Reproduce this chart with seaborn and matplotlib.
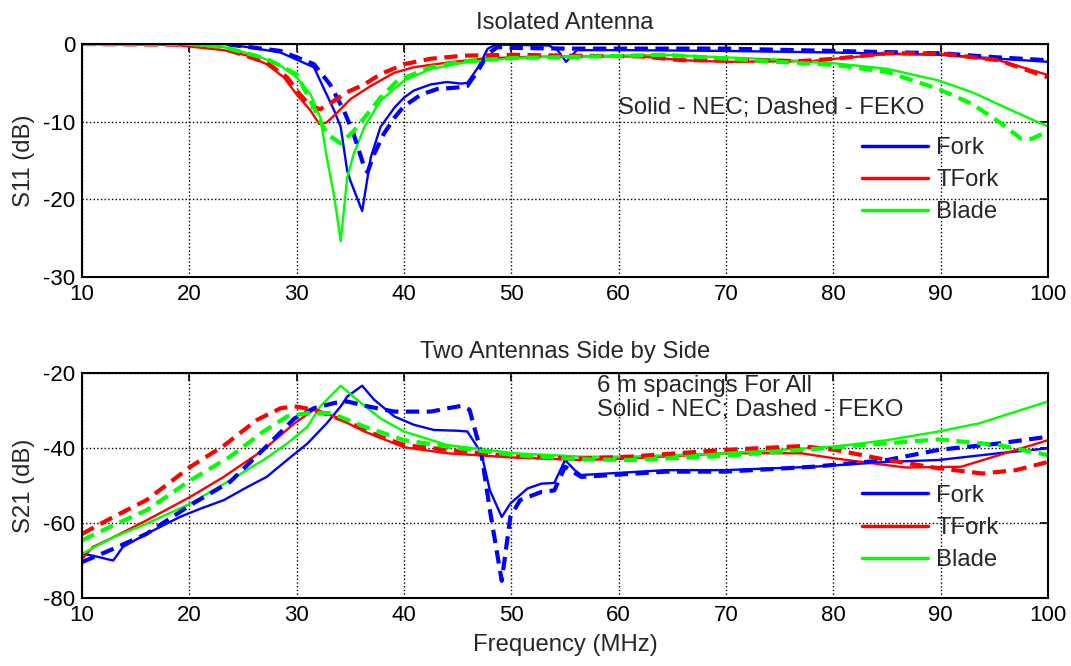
import numpy as np
import pandas as pd
import matplotlib
matplotlib.use("Agg")
import matplotlib.pyplot as plt
import seaborn as sns
from matplotlib.lines import Line2D

# --- S11, isolated antenna ---
fork_nec_f = [10, 20, 23.2, 25.4, 28.5, 31.6, 33.5, 34.1, 34.7, 35.0, 36.1, 36.9, 37.8, 39.1, 40.0, 40.9,
              42.5, 44.0, 45.3, 45.9, 46.9, 47.8, 48.4, 49.5, 53.5, 54.3, 55.1, 56.1, 61, 70, 80, 90, 95.4, 100]
fork_nec_s11 = [0, 0, 0, -0.4, -1.1, -3.0, -8.6, -10.7, -16.3, -17.6, -21.5, -14.6, -10.7, -8.2, -6.9, -6.0,
                -5.2, -4.9, -5.1, -5.0, -3.0, -0.6, -0.2, -0.1, -0.2, -0.8, -2.3, -0.8, -0.8, -0.9, -1.1, -1.4, -1.9, -2.3]

fork_feko_f = [10, 20, 23.2, 28.5, 31.6, 33.1, 34.4, 35.3, 36.3, 36.6, 37.2, 38.1, 39.1, 40.0, 41.6, 43.1,
               45.0, 45.9, 46.9, 47.8, 48.7, 50, 55, 60, 70, 80, 90, 95, 100]
fork_feko_s11 = [0, 0, 0, -0.9, -2.6, -5.2, -8.6, -11.6, -15.9, -16.5, -14.2, -11.6, -9.5, -8.0, -6.5, -5.8,
                 -5.6, -5.4, -3.4, -1.3, -0.4, -0.5, -0.6, -0.6, -0.6, -0.9, -1.2, -1.7, -2.1]

tfork_nec_f = [10, 18.5, 23.2, 25.4, 27.2, 28.8, 30.0, 31.3, 32.1, 32.8, 33.8, 35.0, 36.9, 39.1, 40.9, 44,
               47.2, 50.3, 55, 62, 66, 70, 78, 80.2, 85, 89.8, 95.4, 100]
tfork_nec_s11 = [0, -0.1, -0.8, -1.5, -2.6, -4.3, -6.5, -8.6, -10.3, -10.1, -8.8, -7.1, -5.4, -3.7, -3.0, -2.4,
                 -1.9, -1.7, -1.6, -1.6, -2.1, -2.3, -2.2, -1.9, -1.3, -1.3, -2.1, -4.0]

tfork_feko_f = [10, 20, 23.2, 27.2, 29.1, 30.3, 31.3, 32.2, 33.5, 34.7, 36.3, 37.8, 40, 42.5, 45.6, 50.3,
                55, 62, 66, 70, 77, 80.2, 85, 89.8, 95.4, 100]
tfork_feko_s11 = [0, -0.1, -0.6, -2.4, -4.3, -6.5, -8.0, -8.4, -7.3, -6.2, -5.2, -3.9, -2.6, -1.9, -1.5, -1.4,
                  -1.5, -1.6, -2.1, -2.1, -2.2, -1.9, -1.2, -1.2, -2.1, -4.3]

blade_nec_f = [10, 19.1, 23.2, 26.3, 28.5, 30, 31.3, 32.2, 32.8, 33.5, 34.1, 34.7, 35.3, 36.3, 37.8, 40,
               42.5, 45.6, 50.3, 55, 64.4, 74.7, 80.2, 85, 89.8, 92.9, 96.7, 98.8, 100]
blade_nec_s11 = [0, 0, -0.4, -1.5, -2.8, -4.3, -6.5, -9.5, -14.6, -19.7, -25.4, -17.2, -14.2, -10.7, -7.3, -4.7,
                 -3.2, -2.4, -1.8, -1.6, -1.4, -2.0, -2.5, -3.2, -4.7, -6.2, -8.6, -9.9, -10.6]

blade_feko_f = [10, 20, 23.2, 27.2, 30, 31.6, 32.8, 34.1, 35.3, 36.6, 37.8, 39.4, 42.5, 45.6, 50.3, 55,
                64.4, 74.7, 80.2, 85, 89.8, 92.9, 95.4, 97.5, 98.5, 100]
blade_feko_s11 = [0, 0, -0.4, -1.9, -3.9, -8.2, -11.6, -12.8, -11.2, -9.0, -6.9, -4.7, -3.0, -2.2, -1.8, -1.7,
                  -1.4, -2.3, -2.7, -3.6, -5.8, -7.7, -10.0, -12.2, -12.2, -11.2]

# --- S21, two antennas side by side ---
fork_nec_f2 = [10, 11, 12.9, 13.8, 16, 19.1, 21, 23.2, 25.4, 27.2, 29.1, 31, 32.8, 34.1, 34.7, 36.1, 37.2,
               39.1, 40.9, 42.8, 45, 45.9, 47.2, 48.0, 49.1, 49.9, 51.5, 52.8, 54.0, 55, 55.9, 56.5, 64.4,
               69.9, 78.1, 85, 89.8, 95.4, 100]
fork_nec_s21 = [-68.2, -68.7, -70, -66.4, -62.9, -58.4, -56.2, -53.9, -50.4, -47.7, -43.2, -38.8, -33.4, -28.9,
                -26.3, -23.4, -27.1, -31.6, -33.8, -35.2, -35.4, -35.6, -41.4, -51.3, -58.4, -54.8, -50.8,
                -49.5, -49.3, -43.2, -45.9, -47.2, -45.9, -45.9, -45, -43.7, -43.2, -41.4, -40.1]

fork_feko_f2 = [10, 12.9, 16, 20.1, 23.8, 27.1, 29.8, 31.6, 33.5, 34.7, 36.6, 39.1, 42.5, 44.1, 45.3, 46.1,
                47.2, 48.0, 49.1, 49.9, 50.8, 52.8, 54, 55, 56.5, 64.4, 69.9, 78.1, 85, 89.8, 95.4, 100]
fork_feko_s21 = [-70.4, -66.9, -62.9, -55.2, -49.0, -39.8, -32.1, -29.4, -28, -27.6, -28.9, -30.3, -30.3,
                 -29.4, -28.8, -29.8, -41.4, -56.6, -75.4, -58.4, -53.9, -51.7, -51.3, -45, -47.7, -46.3,
                 -46.3, -45, -43.2, -40.5, -38.8, -37]

tfork_nec_f2 = [10, 11, 12.9, 16, 20.1, 23.2, 26.9, 29.8, 31.6, 33.5, 36.3, 40, 44, 49.9, 56.5, 61, 69.9,
                77, 80.2, 86.7, 91.9, 96, 100]
tfork_nec_s21 = [-69.6, -66.4, -63.8, -59.3, -53, -47.7, -40.5, -33.4, -29.8, -31.6, -35.6, -39.8, -41.4,
                 -42.5, -43.2, -42.8, -41.4, -41.4, -42.8, -45.2, -45, -41.4, -37.9]

tfork_feko_f2 = [10, 12.9, 16, 20.1, 23.2, 26.3, 28.5, 29.8, 31.6, 34.7, 37.8, 40, 44, 50.3, 56.5, 61, 69.9,
                 77, 80.2, 85, 89.8, 93.9, 97, 100]
tfork_feko_s21 = [-62.9, -58.4, -53.9, -45, -39.4, -32.5, -29.4, -28.9, -29.8, -33, -37, -39.2, -40.5, -42.3,
                  -42.8, -42.3, -40.5, -39.5, -40.5, -43.2, -45.4, -46.8, -45.9, -43.7]

blade_nec_f2 = [10, 12.9, 16, 20.1, 23.8, 26.9, 29.1, 31, 32.2, 34.1, 35.6, 37.8, 40, 44, 50.3, 56.5, 61,
                69.9, 80.2, 85, 89.8, 93.6, 97, 100]
blade_nec_s21 = [-68.2, -63.8, -60.2, -54.8, -48.6, -43.2, -38.8, -34.3, -28.9, -23.4, -27.1, -32.1, -35.6,
                 -39.2, -41.4, -42.3, -42.3, -41.4, -39.6, -37.9, -35.6, -33.4, -30.3, -27.6]

blade_feko_f2 = [10, 12.9, 16, 20.1, 23.8, 26.9, 29.1, 31, 33.2, 36.3, 40, 44, 50.3, 56.5, 61, 69.9, 80.2,
                 89.8, 95.4, 100]
blade_feko_s21 = [-64.6, -60.6, -56.6, -48.6, -42.3, -35.6, -31.6, -30.7, -30.7, -34.3, -37.9, -39.6, -41.9,
                  -43, -43.2, -42.1, -39.8, -37.7, -39.2, -41.9]

names = ["Fork", "TFork", "Blade"]
colors = {"Fork": "#0000ff", "TFork": "#ff0000", "Blade": "#00ff00"}

top_series = [
    ("Fork", "NEC", fork_nec_f, fork_nec_s11), ("TFork", "NEC", tfork_nec_f, tfork_nec_s11),
    ("Blade", "NEC", blade_nec_f, blade_nec_s11), ("Fork", "FEKO", fork_feko_f, fork_feko_s11),
    ("TFork", "FEKO", tfork_feko_f, tfork_feko_s11), ("Blade", "FEKO", blade_feko_f, blade_feko_s11),
]
bottom_series = [
    ("Fork", "NEC", fork_nec_f2, fork_nec_s21), ("TFork", "NEC", tfork_nec_f2, tfork_nec_s21),
    ("Blade", "NEC", blade_nec_f2, blade_nec_s21), ("Fork", "FEKO", fork_feko_f2, fork_feko_s21),
    ("TFork", "FEKO", tfork_feko_f2, tfork_feko_s21), ("Blade", "FEKO", blade_feko_f2, blade_feko_s21),
]

sns.set_style("white")
plt.rcParams["font.family"] = ["Liberation Sans", "DejaVu Sans"]
plt.rcParams["axes.linewidth"] = 1.5
plt.rcParams["axes.edgecolor"] = "black"
plt.rcParams["axes.unicode_minus"] = False
FS = 16     # ticks
FS2 = 17.2  # labels, notes and legend

fig = plt.figure(figsize=(10.71, 6.66), dpi=100)
ax1 = fig.add_axes([0.0766, 0.584, 0.902, 0.350])
ax2 = fig.add_axes([0.0766, 0.102, 0.902, 0.338])


def draw(ax, series):
    for name, code, f, v in series:
        df = pd.DataFrame({"f": f, "v": v})
        if code == "NEC":
            sns.lineplot(data=df, x="f", y="v", ax=ax, color=colors[name], lw=1.7,
                         estimator=None, sort=False, legend=False)
        else:
            sns.lineplot(data=df, x="f", y="v", ax=ax, color=colors[name], lw=3.0,
                         linestyle=(0, (3.2, 1.8)), estimator=None, sort=False, legend=False)
    ax.set_xlim(10, 100)
    ax.set_xticks(np.arange(10, 101, 10))
    ax.grid(True, linestyle=":", color="black", linewidth=1.0)
    ax.tick_params(direction="in", top=True, right=True, length=6, width=1.2,
                   labelsize=FS, colors="black", pad=5)
    for s in ax.spines.values():
        s.set_color("black")
    handles = [Line2D([], [], color=colors[n], lw=2.5) for n in names]
    return handles


def add_legend(ax, handles, top):
    ax.legend(handles, names, loc="upper left", bbox_to_anchor=(0.795, top), frameon=False,
              fontsize=FS2, handlelength=2.75, handletextpad=0.35, labelspacing=0.42, borderpad=0)


h = draw(ax1, top_series)
ax1.set_ylim(-30, 0)
ax1.set_yticks([-30, -20, -10, 0])
ax1.set_ylabel("S11 (dB)", fontsize=FS2, labelpad=6)
ax1.set_xlabel("")
ax1.set_title("Isolated Antenna", fontsize=FS2, pad=11)
ax1.text(59.9, -8.3, "Solid - NEC; Dashed - FEKO", fontsize=FS2, ha="left", va="center")
add_legend(ax1, h, 0.652)

h = draw(ax2, bottom_series)
ax2.set_ylim(-80, -20)
ax2.set_yticks([-80, -60, -40, -20])
ax2.set_ylabel("S21 (dB)", fontsize=FS2, labelpad=6)
ax2.set_xlabel("Frequency (MHz)", fontsize=FS2, labelpad=6)
ax2.set_title("Two Antennas Side by Side", fontsize=FS2, pad=11)
ax2.text(58.0, -26.6, "6 m spacings For All\nSolid - NEC; Dashed - FEKO", fontsize=FS2,
         ha="left", va="center", linespacing=1.12)
add_legend(ax2, h, 0.556)

fig.savefig("out.png", dpi=100)
